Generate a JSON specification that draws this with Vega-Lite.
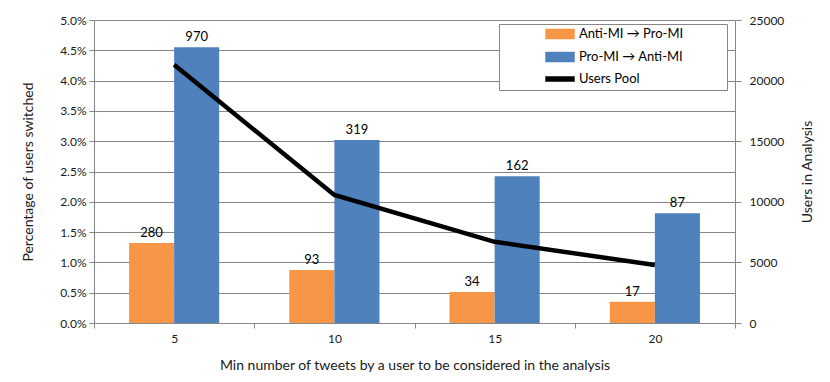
{
  "$schema": "https://vega.github.io/schema/vega-lite/v6.json",
  "width": 641,
  "height": 303,
  "autosize": {"type": "none"},
  "padding": {"left": 94, "top": 20, "right": 95, "bottom": 59},
  "background": "white",
  "config": {
    "view": {"stroke": null},
    "font": "Lato",
    "axis": {
      "domainColor": "#868686",
      "tickColor": "#868686",
      "gridColor": "#868686",
      "labelColor": "#1a1a1a",
      "titleColor": "#1a1a1a",
      "labelFontSize": 12,
      "titleFontSize": 14,
      "titleFontWeight": "normal"
    }
  },
  "datasets": {
    "bars": [
      {"tweets": 5, "series": "Anti-MI → Pro-MI", "pct": 0.0132, "count": 280},
      {"tweets": 5, "series": "Pro-MI → Anti-MI", "pct": 0.0455, "count": 970},
      {"tweets": 10, "series": "Anti-MI → Pro-MI", "pct": 0.00875, "count": 93},
      {"tweets": 10, "series": "Pro-MI → Anti-MI", "pct": 0.0302, "count": 319},
      {"tweets": 15, "series": "Anti-MI → Pro-MI", "pct": 0.0051, "count": 34},
      {"tweets": 15, "series": "Pro-MI → Anti-MI", "pct": 0.0242, "count": 162},
      {"tweets": 20, "series": "Anti-MI → Pro-MI", "pct": 0.0035, "count": 17},
      {"tweets": 20, "series": "Pro-MI → Anti-MI", "pct": 0.0181, "count": 87}
    ],
    "pool": [
      {"tweets": 5, "users": 21300},
      {"tweets": 10, "users": 10560},
      {"tweets": 15, "users": 6700},
      {"tweets": 20, "users": 4790}
    ]
  },
  "encoding": {
    "x": {
      "field": "tweets",
      "type": "ordinal",
      "scale": {"paddingInner": 0, "paddingOuter": 0},
      "axis": {
        "title": "Min number of tweets by a user to be considered in the analysis",
        "labelAngle": 0,
        "tickBand": "extent",
        "tickSize": 5,
        "labelPadding": 5,
        "titleY": 42,
        "titleBaseline": "middle"
      }
    }
  },
  "layer": [
    {
      "data": {"name": "bars"},
      "encoding": {
        "xOffset": {"field": "series", "scale": {"paddingInner": 0, "paddingOuter": 0.778}},
        "y": {
          "field": "pct",
          "type": "quantitative",
          "scale": {"domain": [0, 0.05]},
          "axis": {
            "title": "Percentage of users switched",
            "format": ".1%",
            "values": [0, 0.005, 0.01, 0.015, 0.02, 0.025, 0.03, 0.035, 0.04, 0.045, 0.05],
            "grid": true,
            "tickSize": 5,
            "labelPadding": 3,
            "titleX": -66,
            "titleY": 151.5,
            "titleAngle": 270,
            "titleAlign": "center",
            "titleBaseline": "middle"
          }
        }
      },
      "layer": [
        {
          "mark": {"type": "bar"},
          "encoding": {
            "color": {
              "field": "series",
              "type": "nominal",
              "scale": {
                "domain": ["Anti-MI → Pro-MI", "Pro-MI → Anti-MI", "Users Pool"],
                "range": ["#F79646", "#4F81BD", "#000000"]
              },
              "legend": {
                "orient": "none",
                "legendX": 405,
                "legendY": 4,
                "title": null,
                "padding": 3.5,
                "strokeColor": "#868686",
                "fillColor": "white",
                "labelFontSize": 13,
                "labelColor": "#000000",
                "labelLimit": 400,
                "rowPadding": 8,
                "symbolType": "M-2.5,-0.8H2.5V0.8H-2.5Z",
                "symbolSize": 125,
                "symbolOffset": 51,
                "labelOffset": 12.4,
                "labelExpr": "datum.label + '\u2800\u2800\u2800\u2800'",
                "encode": {
                  "symbols": {
                    "update": {
                      "fill": {"signal": "scale('color', datum.value)"},
                      "stroke": {"value": "transparent"},
                      "shape": {"signal": "datum.value === 'Users Pool' ? 'M-2.5,-0.35H2.5V0.35H-2.5Z' : 'M-2.5,-0.8H2.5V0.8H-2.5Z'"}
                    }
                  }
                }
              }
            }
          }
        },
        {
          "mark": {"type": "text", "baseline": "bottom", "dy": -3, "fontSize": 13, "color": "#000000"},
          "encoding": {
            "text": {"field": "count", "type": "quantitative"}
          }
        }
      ]
    },
    {
      "data": {"name": "pool"},
      "mark": {"type": "line", "strokeWidth": 4.5},
      "encoding": {
        "y": {
          "field": "users",
          "type": "quantitative",
          "scale": {"domain": [0, 25000]},
          "axis": {
            "orient": "right",
            "title": "Users in Analysis",
            "values": [0, 5000, 10000, 15000, 20000, 25000],
            "format": "d",
            "grid": false,
            "tickSize": 6,
            "labelPadding": 8,
            "titleX": 72,
            "titleY": 151.5,
            "titleAngle": 270,
            "titleAlign": "center",
            "titleBaseline": "middle"
          }
        },
        "color": {"datum": "Users Pool"}
      }
    }
  ],
  "resolve": {"scale": {"y": "independent"}}
}
